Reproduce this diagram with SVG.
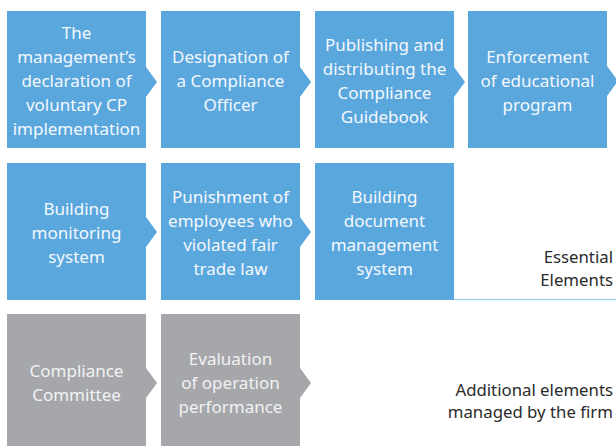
<svg xmlns="http://www.w3.org/2000/svg" width="616" height="446" viewBox="0 0 616 446">
<style>
.b{fill:#5aa7de}
.g{fill:#a6a7ab}
.t{font-family:"Source Sans Pro","Noto Sans","Liberation Sans",sans-serif;font-size:17px;fill:#f4f8fc;text-anchor:middle}
.tg{fill:#f2f2f3}
.l{font-family:"Source Sans Pro","Noto Sans","Liberation Sans",sans-serif;font-size:16.8px;fill:#2b2b2b;text-anchor:end}
</style>
<rect width="616" height="446" fill="#ffffff"/>
<g id="connectors">
<polygon class="b" points="146,67 157,82 146,97"/>
<polygon class="b" points="300,67 311,82 300,97"/>
<polygon class="b" points="454,67 465,82 454,97"/>
<polygon class="b" points="607,66 618,81 607,96"/>
<polygon class="b" points="146,217 157,232 146,247"/>
<polygon class="b" points="300,217 311,232 300,247"/>
<polygon class="g" points="146,368 157,383 146,398"/>
<polygon class="g" points="300,368 311,383 300,398"/>
<line x1="454" y1="299.5" x2="616" y2="299.5" stroke="#a9d2f0" stroke-width="1.5"/>
</g>
<g id="n1"><rect class="b" x="7" y="11" width="139" height="137"/>
<text class="t" x="76.5"><tspan x="76.5" y="39">The</tspan><tspan x="76.5" y="63">management’s</tspan><tspan x="76.5" y="87">declaration of</tspan><tspan x="76.5" y="111">voluntary CP</tspan><tspan x="76.5" y="135">implementation</tspan></text></g>
<g id="n2"><rect class="b" x="161" y="11" width="139" height="137"/>
<text class="t"><tspan x="230.5" y="63">Designation of</tspan><tspan x="230.5" y="87">a Compliance</tspan><tspan x="230.5" y="111">Officer</tspan></text></g>
<g id="n3"><rect class="b" x="315" y="11" width="139" height="137"/>
<text class="t"><tspan x="384.5" y="51">Publishing and</tspan><tspan x="384.5" y="75">distributing the</tspan><tspan x="384.5" y="99">Compliance</tspan><tspan x="384.5" y="123">Guidebook</tspan></text></g>
<g id="n4"><rect class="b" x="468" y="11" width="139" height="137"/>
<text class="t"><tspan x="537.5" y="63">Enforcement</tspan><tspan x="537.5" y="87">of educational</tspan><tspan x="537.5" y="111">program</tspan></text></g>
<g id="n5"><rect class="b" x="7" y="163" width="139" height="137"/>
<text class="t"><tspan x="76.5" y="215">Building</tspan><tspan x="76.5" y="239">monitoring</tspan><tspan x="76.5" y="263">system</tspan></text></g>
<g id="n6"><rect class="b" x="161" y="163" width="139" height="137"/>
<text class="t"><tspan x="230.5" y="203">Punishment of</tspan><tspan x="230.5" y="227">employees who</tspan><tspan x="230.5" y="251">violated fair</tspan><tspan x="230.5" y="275">trade law</tspan></text></g>
<g id="n7"><rect class="b" x="315" y="163" width="139" height="137"/>
<text class="t"><tspan x="384.5" y="203">Building</tspan><tspan x="384.5" y="227">document</tspan><tspan x="384.5" y="251">management</tspan><tspan x="384.5" y="275">system</tspan></text></g>
<g id="n8"><rect class="g" x="7" y="314" width="139" height="140"/>
<text class="t tg"><tspan x="76.5" y="377">Compliance</tspan><tspan x="76.5" y="401">Committee</tspan></text></g>
<g id="n9"><rect class="g" x="161" y="314" width="139" height="140"/>
<text class="t tg"><tspan x="230.5" y="365">Evaluation</tspan><tspan x="230.5" y="389">of operation</tspan><tspan x="230.5" y="413">performance</tspan></text></g>
<g id="labels">
<text class="l"><tspan x="613" y="263">Essential</tspan><tspan x="613" y="286">Elements</tspan></text>
<text class="l"><tspan x="613" y="396">Additional elements</tspan><tspan x="613" y="418">managed by the firm</tspan></text>
</g>
</svg>
